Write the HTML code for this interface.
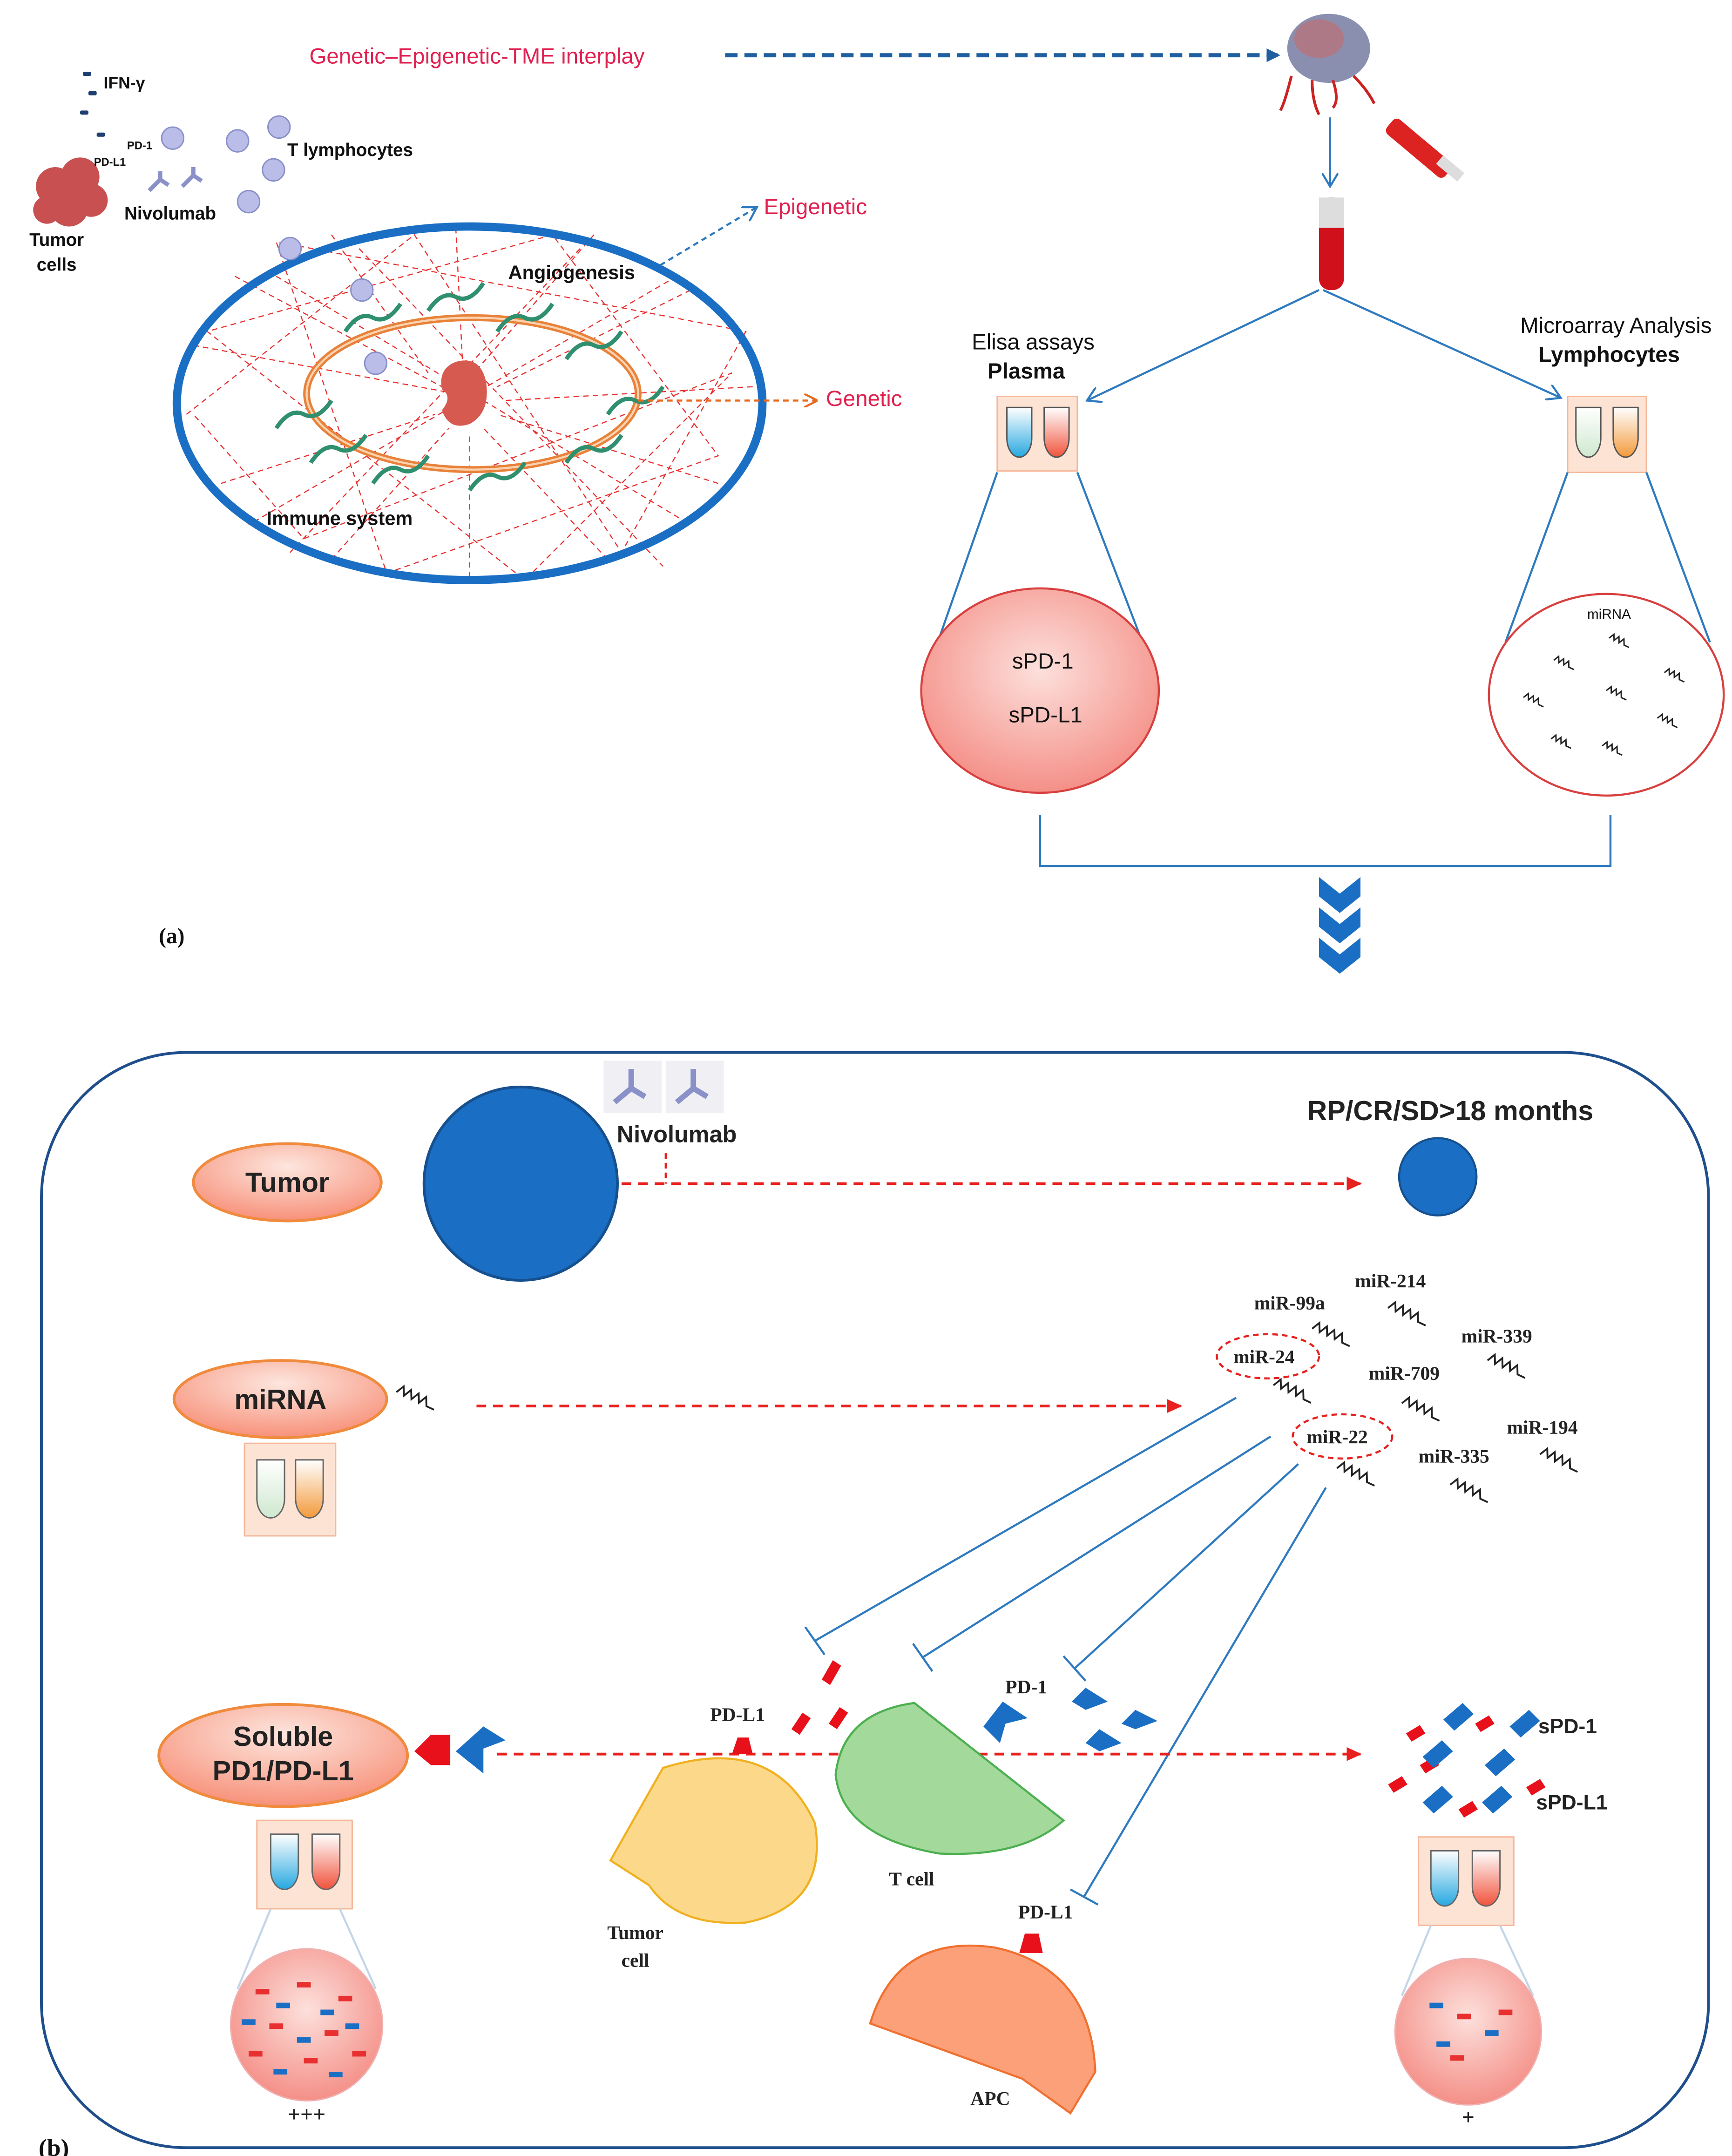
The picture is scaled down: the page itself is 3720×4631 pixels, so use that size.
<!DOCTYPE html>
<html><head><meta charset="utf-8"><style>
html,body{margin:0;padding:0;background:#fff}
svg{display:block}
text{font-family:"Liberation Sans",sans-serif}
text.s,.s text{font-family:"Liberation Serif",serif;font-weight:bold}
</style></head><body>
<svg width="3720" height="4631" viewBox="0 0 1254 1561" preserveAspectRatio="none" xmlns="http://www.w3.org/2000/svg">
<defs>
<marker id="ab" markerWidth="10" markerHeight="10" refX="8" refY="5" orient="auto" markerUnits="userSpaceOnUse"><path d="M0,0 L10,5 L0,10 z" fill="#1f5fa0"/></marker>
<marker id="al" markerWidth="12" markerHeight="12" refX="10" refY="6" orient="auto" markerUnits="userSpaceOnUse"><path d="M0,0 L10,6 L0,12" fill="none" stroke="#2f7abf" stroke-width="1.5"/></marker>
<marker id="ar" markerWidth="12" markerHeight="12" refX="10" refY="6" orient="auto" markerUnits="userSpaceOnUse"><path d="M0,1 L11,6 L0,11 z" fill="#e8201e"/></marker>
<marker id="ao" markerWidth="10" markerHeight="10" refX="8" refY="5" orient="auto" markerUnits="userSpaceOnUse"><path d="M0,0 L10,5 L0,10" fill="none" stroke="#e86a1e" stroke-width="1.5"/></marker>
<radialGradient id="pg" cx="50%" cy="40%" r="60%"><stop offset="0" stop-color="#fde0dc"/><stop offset="1" stop-color="#f49088"/></radialGradient>
<radialGradient id="pe" cx="50%" cy="30%" r="70%"><stop offset="0" stop-color="#fde6de"/><stop offset="1" stop-color="#f7917a"/></radialGradient>
<linearGradient id="tb" x1="0" y1="0" x2="0" y2="1"><stop offset="0" stop-color="#fff"/><stop offset="1" stop-color="#27a8e0"/></linearGradient>
<linearGradient id="tr" x1="0" y1="0" x2="0" y2="1"><stop offset="0" stop-color="#fff"/><stop offset="1" stop-color="#f0533c"/></linearGradient>
<linearGradient id="tg" x1="0" y1="0" x2="0" y2="1"><stop offset="0" stop-color="#fff"/><stop offset="1" stop-color="#cfe8cf"/></linearGradient>
<linearGradient id="to" x1="0" y1="0" x2="0" y2="1"><stop offset="0" stop-color="#fff"/><stop offset="1" stop-color="#f39a3c"/></linearGradient>
<g id="sq"><path d="M0,0 l3,-6 l3,6 l3,-6 l3,6 l3,-6 l3,6 l3,-6 l3,6 l6,0" fill="none" stroke="#222" stroke-width="1.3" transform="rotate(25)"/></g>
<g id="sqs"><path d="M0,0 l2,-4 l2,4 l2,-4 l2,4 l2,-4 l2,4 l4,0" fill="none" stroke="#222" stroke-width="1" transform="rotate(25)"/></g>
</defs>

<!-- ===== (a) ===== -->
<text x="224" y="46" font-size="16" fill="#e0204f">Genetic–Epigenetic-TME interplay</text>
<line x1="525" y1="40" x2="925" y2="40" stroke="#1f5fa0" stroke-width="3" stroke-dasharray="9,5" marker-end="url(#ab)"/>
<ellipse cx="962" cy="35" rx="30" ry="25" fill="#8a8fb0"/>
<ellipse cx="955" cy="28" rx="18" ry="14" fill="#c66a6a" opacity=".6"/>
<path d="M935,55 q-5,20 -8,25 M950,58 q0,15 5,25 M965,58 q5,15 0,20 M980,55 q10,10 15,20" stroke="#c22" stroke-width="2" fill="none"/>
<rect x="1000" y="100" width="55" height="14" rx="4" fill="#d22" transform="rotate(40 1027 107)"/>
<rect x="1040" y="118" width="20" height="8" fill="#ddd" transform="rotate(40 1050 122)"/>
<line x1="963" y1="85" x2="963" y2="135" stroke="#2f7abf" stroke-width="1.5" marker-end="url(#al)"/>
<rect x="955" y="143" width="18" height="67" rx="8" fill="#d0101a"/>
<rect x="955" y="143" width="18" height="22" fill="#ddd"/>
<line x1="955" y1="210" x2="787" y2="290" stroke="#2f7abf" stroke-width="1.5" marker-end="url(#al)"/>
<line x1="958" y1="210" x2="1130" y2="288" stroke="#2f7abf" stroke-width="1.5" marker-end="url(#al)"/>
<text x="748" y="253" font-size="16" text-anchor="middle" fill="#111">Elisa assays</text>
<text x="743" y="274" font-size="16" font-weight="bold" text-anchor="middle" fill="#111">Plasma</text>
<text x="1170" y="241" font-size="16" text-anchor="middle" fill="#111">Microarray Analysis</text>
<text x="1165" y="262" font-size="16" font-weight="bold" text-anchor="middle" fill="#111">Lymphocytes</text>
<rect x="722" y="287" width="58" height="54" fill="#fde3d4" stroke="#f5b79a"/>
<path d="M729,295 h18 v22 a9,14 0 0 1 -18,0 z" fill="url(#tb)" stroke="#555"/>
<path d="M756,295 h18 v22 a9,14 0 0 1 -18,0 z" fill="url(#tr)" stroke="#555"/>
<rect x="1135" y="287" width="57" height="55" fill="#fde3d4" stroke="#f5b79a"/>
<path d="M1141,295 h18 v22 a9,14 0 0 1 -18,0 z" fill="url(#tg)" stroke="#555"/>
<path d="M1168,295 h18 v22 a9,14 0 0 1 -18,0 z" fill="url(#to)" stroke="#555"/>
<line x1="722" y1="342" x2="680" y2="462" stroke="#2f7abf" stroke-width="1.5"/>
<line x1="780" y1="342" x2="826" y2="462" stroke="#2f7abf" stroke-width="1.5"/>
<line x1="1135" y1="342" x2="1090" y2="465" stroke="#2f7abf" stroke-width="1.5"/>
<line x1="1192" y1="342" x2="1238" y2="465" stroke="#2f7abf" stroke-width="1.5"/>
<ellipse cx="753" cy="500" rx="86" ry="74" fill="url(#pg)" stroke="#d84040" stroke-width="1.5"/>
<text x="755" y="484" font-size="16" text-anchor="middle" fill="#111">sPD-1</text>
<text x="757" y="523" font-size="16" text-anchor="middle" fill="#111">sPD-L1</text>
<ellipse cx="1163" cy="503" rx="85" ry="73" fill="#fff" stroke="#d84040" stroke-width="1.5"/>
<text x="1165" y="448" font-size="10" text-anchor="middle" fill="#111">miRNA</text>
<use href="#sqs" x="1165" y="462"/><use href="#sqs" x="1125" y="478"/><use href="#sqs" x="1205" y="487"/>
<use href="#sqs" x="1163" y="500"/><use href="#sqs" x="1103" y="505"/><use href="#sqs" x="1200" y="520"/>
<use href="#sqs" x="1123" y="535"/><use href="#sqs" x="1160" y="540"/>
<path d="M753,590 V627 H1166 V590" fill="none" stroke="#2f7abf" stroke-width="1.5"/>
<path d="M955,635 l15,12 l15,-12 v14 l-15,12 l-15,-12 z M955,657 l15,12 l15,-12 v14 l-15,12 l-15,-12 z M955,679 l15,12 l15,-12 v14 l-15,12 l-15,-12 z" fill="#1a6fc4"/>
<text x="115" y="683" font-size="16" class="s" fill="#111">(a)</text>

<g stroke="#e83030" stroke-width=".8" stroke-dasharray="4,3" fill="none">
<path d="M140,250 L330,285 M170,200 L320,280 M240,170 L310,270 M330,165 L335,265 M430,170 L345,268 M500,210 L360,280 M545,280 L365,290 M520,350 L360,300 M440,405 L350,310 M340,418 L340,315 M240,405 L325,310 M160,350 L315,300"/>
<path d="M135,300 L300,170 L450,400 L540,240 L200,175 L280,415 L520,330 L400,170 L150,240 L380,420 L530,270 L220,390 L140,300"/>
<path d="M200,200 L500,380 M490,200 L180,380 M260,180 L480,410 M420,180 L210,400"/>
</g>
<ellipse cx="340" cy="292" rx="212" ry="128" fill="none" stroke="#1a6fc4" stroke-width="6"/>
<ellipse cx="342" cy="285" rx="120" ry="55" fill="none" stroke="#e8823a" stroke-width="5"/>
<ellipse cx="342" cy="285" rx="120" ry="55" fill="none" stroke="#fbd3b0" stroke-width="1.5"/>
<g stroke="#2f8f6f" stroke-width="3" fill="none">
<path d="M200,310 q10,-15 20,-10 q10,5 20,-10"/><path d="M250,240 q10,-15 20,-10 q10,5 20,-10"/>
<path d="M310,225 q10,-15 20,-10 q10,5 20,-10"/><path d="M360,240 q10,-15 20,-10 q10,5 20,-10"/>
<path d="M410,260 q10,-15 20,-10 q10,5 20,-10"/><path d="M440,300 q10,-15 20,-10 q10,5 20,-10"/>
<path d="M410,335 q10,-15 20,-10 q10,5 20,-10"/><path d="M340,355 q10,-15 20,-10 q10,5 20,-10"/>
<path d="M270,350 q10,-15 20,-10 q10,5 20,-10"/><path d="M225,335 q10,-15 20,-10 q10,5 20,-10"/>
</g>
<path d="M330,262 q18,-5 22,15 q3,22 -12,30 q-15,5 -20,-10 q8,-10 0,-15 q-3,-15 10,-20z" fill="#d65a50"/>
<text x="368" y="202" font-size="14" font-weight="bold" fill="#111">Angiogenesis</text>
<text x="193" y="380" font-size="14" font-weight="bold" fill="#111">Immune system</text>
<line x1="478" y1="192" x2="548" y2="150" stroke="#2f7abf" stroke-width="1.5" stroke-dasharray="4,3" marker-end="url(#al)"/>
<text x="553" y="155" font-size="16" fill="#e0204f">Epigenetic</text>
<line x1="462" y1="290" x2="590" y2="290" stroke="#e86a1e" stroke-width="1.5" stroke-dasharray="4,3" marker-end="url(#ao)"/>
<text x="598" y="294" font-size="16" fill="#e0204f">Genetic</text>

<g fill="#1f3f70"><rect x="60" y="52" width="6" height="3" rx="1"/><rect x="64" y="66" width="6" height="3" rx="1"/><rect x="58" y="80" width="6" height="3" rx="1"/><rect x="70" y="96" width="6" height="3" rx="1"/></g>
<text x="75" y="64" font-size="12" font-weight="bold" fill="#111">IFN-γ</text>
<g fill="#b9bde8" stroke="#8a90c8">
<circle cx="125" cy="100" r="8"/><circle cx="172" cy="102" r="8"/><circle cx="202" cy="92" r="8"/><circle cx="198" cy="123" r="8"/>
<circle cx="180" cy="146" r="8"/><circle cx="210" cy="180" r="8"/><circle cx="262" cy="210" r="8"/><circle cx="272" cy="263" r="8"/>
</g>
<g fill="#c85050"><circle cx="40" cy="135" r="14"/><circle cx="58" cy="128" r="14"/><circle cx="50" cy="150" r="14"/><circle cx="66" cy="145" r="12"/><circle cx="34" cy="152" r="10"/></g>
<text x="92" y="108" font-size="8" font-weight="bold" fill="#111">PD-1</text>
<text x="68" y="120" font-size="8" font-weight="bold" fill="#111">PD-L1</text>
<text x="208" y="113" font-size="13" font-weight="bold" fill="#111">T lymphocytes</text>
<text x="90" y="159" font-size="13" font-weight="bold" fill="#111">Nivolumab</text>
<text x="41" y="178" font-size="13" font-weight="bold" text-anchor="middle" fill="#111">Tumor</text>
<text x="41" y="196" font-size="13" font-weight="bold" text-anchor="middle" fill="#111">cells</text>
<path d="M108,138 l8,-8 M116,130 l6,4 M116,130 l0,-6 M132,135 l8,-8 M140,127 l6,4 M140,127 l0,-6" stroke="#8a90c8" stroke-width="3"/>

<!-- ===== (b) ===== -->
<rect x="30" y="762" width="1207" height="793" rx="105" fill="none" stroke="#1f4e8c" stroke-width="2"/>
<ellipse cx="208" cy="856" rx="68" ry="28" fill="url(#pe)" stroke="#f08a3c" stroke-width="2"/>
<text x="208" y="863" font-size="20" font-weight="bold" text-anchor="middle" fill="#222">Tumor</text>
<ellipse cx="203" cy="1013" rx="77" ry="28" fill="url(#pe)" stroke="#f08a3c" stroke-width="2"/>
<text x="203" y="1020" font-size="20" font-weight="bold" text-anchor="middle" fill="#222">miRNA</text>
<ellipse cx="205" cy="1271" rx="90" ry="37" fill="url(#pe)" stroke="#f08a3c" stroke-width="2"/>
<text x="205" y="1264" font-size="20" font-weight="bold" text-anchor="middle" fill="#222">Soluble</text>
<text x="205" y="1289" font-size="20" font-weight="bold" text-anchor="middle" fill="#222">PD1/PD-L1</text>

<circle cx="377" cy="857" r="70" fill="#1a6fc4" stroke="#16508f" stroke-width="2"/>
<circle cx="1041" cy="852" r="28" fill="#1a6fc4" stroke="#16508f" stroke-width="1.5"/>
<rect x="437" y="768" width="42" height="38" fill="#f0f0f4"/><rect x="482" y="768" width="42" height="38" fill="#f0f0f4"/>
<path d="M445,798 l12,-10 M457,788 l10,6 M457,788 l0,-14 M490,798 l12,-10 M502,788 l10,6 M502,788 l0,-14" stroke="#8a90c8" stroke-width="4"/>
<text x="490" y="827" font-size="17" font-weight="bold" text-anchor="middle" fill="#222">Nivolumab</text>
<text x="1050" y="811" font-size="20" font-weight="bold" text-anchor="middle" fill="#222">RP/CR/SD&gt;18 months</text>
<path d="M482,835 V857" stroke="#e8201e" stroke-width="1.5" stroke-dasharray="4,3"/>
<line x1="450" y1="857" x2="985" y2="857" stroke="#e8201e" stroke-width="2" stroke-dasharray="7,5" marker-end="url(#ar)"/>

<use href="#sq" x="287" y="1008"/>
<rect x="177" y="1045" width="66" height="67" fill="#fde3d4" stroke="#f5b79a"/>
<path d="M186,1057 h20 v28 a10,14 0 0 1 -20,0 z" fill="url(#tg)" stroke="#666"/>
<path d="M214,1057 h20 v28 a10,14 0 0 1 -20,0 z" fill="url(#to)" stroke="#666"/>
<line x1="345" y1="1018" x2="855" y2="1018" stroke="#e8201e" stroke-width="2" stroke-dasharray="7,5" marker-end="url(#ar)"/>

<g font-size="14" class="s" fill="#222">
<text x="981" y="932">miR-214</text><text x="908" y="948">miR-99a</text><text x="1058" y="972">miR-339</text>
<text x="893" y="987">miR-24</text><text x="991" y="999">miR-709</text><text x="1091" y="1038">miR-194</text>
<text x="946" y="1045">miR-22</text><text x="1027" y="1059">miR-335</text>
</g>
<ellipse cx="918" cy="982" rx="37" ry="16" fill="none" stroke="#e8201e" stroke-width="1.5" stroke-dasharray="4,3"/>
<ellipse cx="972" cy="1040" rx="36" ry="16" fill="none" stroke="#e8201e" stroke-width="1.5" stroke-dasharray="4,3"/>
<use href="#sq" x="1005" y="947"/><use href="#sq" x="950" y="962"/><use href="#sq" x="1077" y="985"/>
<use href="#sq" x="922" y="1003"/><use href="#sq" x="1015" y="1016"/><use href="#sq" x="1115" y="1053"/>
<use href="#sq" x="968" y="1063"/><use href="#sq" x="1050" y="1075"/>

<g stroke="#2f7abf" stroke-width="1.5">
<line x1="895" y1="1012" x2="590" y2="1188"/><line x1="583" y1="1178" x2="597" y2="1198"/>
<line x1="920" y1="1040" x2="668" y2="1200"/><line x1="661" y1="1190" x2="675" y2="1210"/>
<line x1="940" y1="1060" x2="778" y2="1208"/><line x1="770" y1="1199" x2="786" y2="1217"/>
<line x1="960" y1="1077" x2="785" y2="1373"/><line x1="775" y1="1368" x2="795" y2="1379"/>
</g>

<path d="M300,1268 l12,-12 h14 v22 h-14 z" fill="#e8101a"/>
<path d="M330,1268 l20,-18 l16,10 l-16,6 l0,18 z" fill="#1a6fc4"/>
<line x1="360" y1="1270" x2="985" y2="1270" stroke="#e8201e" stroke-width="2" stroke-dasharray="7,5" marker-end="url(#ar)"/>

<rect x="186" y="1318" width="69" height="64" fill="#fde3d4" stroke="#f5b79a"/>
<path d="M196,1328 h20 v26 a10,14 0 0 1 -20,0 z" fill="url(#tb)" stroke="#666"/>
<path d="M226,1328 h20 v26 a10,14 0 0 1 -20,0 z" fill="url(#tr)" stroke="#666"/>
<line x1="196" y1="1382" x2="172" y2="1440" stroke="#c5d5e8" stroke-width="1.5"/>
<line x1="246" y1="1382" x2="272" y2="1440" stroke="#c5d5e8" stroke-width="1.5"/>
<circle cx="222" cy="1466" r="55" fill="url(#pg)" stroke="#f0b0b0"/>
<g fill="#e83030"><rect x="185" y="1440" width="10" height="4"/><rect x="215" y="1435" width="10" height="4"/><rect x="245" y="1445" width="10" height="4"/><rect x="195" y="1465" width="10" height="4"/><rect x="235" y="1470" width="10" height="4"/><rect x="180" y="1485" width="10" height="4"/><rect x="220" y="1490" width="10" height="4"/><rect x="255" y="1485" width="10" height="4"/></g>
<g fill="#1a6fc4"><rect x="200" y="1450" width="10" height="4"/><rect x="232" y="1455" width="10" height="4"/><rect x="175" y="1462" width="10" height="4"/><rect x="215" y="1475" width="10" height="4"/><rect x="250" y="1465" width="10" height="4"/><rect x="198" y="1498" width="10" height="4"/><rect x="238" y="1500" width="10" height="4"/></g>
<text x="222" y="1536" font-size="16" class="s" text-anchor="middle" fill="#222">+++</text>

<path d="M595,1216 l8,-14 l6,4 l-8,14z M573,1252 l8,-12 l6,4 l-8,12z M600,1248 l8,-12 l6,4 l-8,12z" fill="#e8101a"/>
<path d="M480,1280 Q560,1255 590,1320 Q600,1380 540,1392 Q490,1395 470,1365 L442,1347 Z" fill="#fcd98a" stroke="#f0b020" stroke-width="1.5"/>
<path d="M530,1270 l4,-12 h8 l3,12 z" fill="#e8101a"/>
<text x="534" y="1246" font-size="14" class="s" text-anchor="middle" fill="#222">PD-L1</text>
<path d="M662,1233 L770,1318 Q740,1345 680,1342 Q610,1330 605,1285 Q610,1240 662,1233 Z" fill="#a3d99a" stroke="#4caf50" stroke-width="1.5"/>
<path d="M712,1250 l14,-18 l18,12 l-16,4 l-4,14z" fill="#1a6fc4"/>
<text x="743" y="1226" font-size="14" class="s" text-anchor="middle" fill="#222">PD-1</text>
<path d="M776,1232 l10,-10 l16,10 l-16,6z M786,1262 l10,-10 l16,10 l-16,6z M812,1248 l10,-10 l16,8 l-16,6z" fill="#1a6fc4"/>
<text x="660" y="1365" font-size="14" class="s" text-anchor="middle" fill="#222">T cell</text>
<text x="460" y="1404" font-size="14" class="s" text-anchor="middle" fill="#222">Tumor</text>
<text x="460" y="1424" font-size="14" class="s" text-anchor="middle" fill="#222">cell</text>
<path d="M630,1465 Q650,1400 720,1410 Q790,1425 793,1500 L775,1530 L740,1505 Z" fill="#fba078" stroke="#f07030" stroke-width="1.5"/>
<path d="M738,1414 l4,-14 h10 l3,14 z" fill="#e8101a"/>
<text x="757" y="1389" font-size="14" class="s" text-anchor="middle" fill="#222">PD-L1</text>
<text x="717" y="1524" font-size="14" class="s" text-anchor="middle" fill="#222">APC</text>

<g fill="#e8101a"><path d="M1018,1255 l10,-6 l4,6 l-10,6z M1068,1248 l10,-6 l4,6 l-10,6z M1005,1292 l10,-6 l4,6 l-10,6z M1056,1310 l10,-6 l4,6 l-10,6z M1028,1278 l10,-6 l4,6 l-10,6z M1105,1294 l10,-6 l4,6 l-10,6z"/></g>
<g fill="#1a6fc4"><path d="M1045,1245 l14,-12 l8,8 l-14,12z M1093,1250 l14,-12 l8,8 l-14,12z M1030,1272 l14,-12 l8,8 l-14,12z M1075,1278 l14,-12 l8,8 l-14,12z M1030,1305 l14,-12 l8,8 l-14,12z M1073,1305 l14,-12 l8,8 l-14,12z"/></g>
<text x="1135" y="1255" font-size="15" font-weight="bold" text-anchor="middle" fill="#222">sPD-1</text>
<text x="1138" y="1310" font-size="15" font-weight="bold" text-anchor="middle" fill="#222">sPD-L1</text>
<rect x="1027" y="1330" width="69" height="64" fill="#fde3d4" stroke="#f5b79a"/>
<path d="M1036,1340 h20 v26 a10,14 0 0 1 -20,0 z" fill="url(#tb)" stroke="#666"/>
<path d="M1066,1340 h20 v26 a10,14 0 0 1 -20,0 z" fill="url(#tr)" stroke="#666"/>
<line x1="1036" y1="1394" x2="1015" y2="1445" stroke="#c5d5e8" stroke-width="1.5"/>
<line x1="1086" y1="1394" x2="1110" y2="1445" stroke="#c5d5e8" stroke-width="1.5"/>
<circle cx="1063" cy="1471" r="53" fill="url(#pg)" stroke="#f0b0b0"/>
<g fill="#1a6fc4"><rect x="1035" y="1450" width="10" height="4"/><rect x="1075" y="1470" width="10" height="4"/><rect x="1040" y="1478" width="10" height="4"/></g>
<g fill="#e83030"><rect x="1055" y="1458" width="10" height="4"/><rect x="1050" y="1488" width="10" height="4"/><rect x="1085" y="1455" width="10" height="4"/></g>
<text x="1063" y="1538" font-size="16" class="s" text-anchor="middle" fill="#222">+</text>
<text x="28" y="1561" font-size="18" class="s" fill="#111">(b)</text>
</svg>
</body></html>
